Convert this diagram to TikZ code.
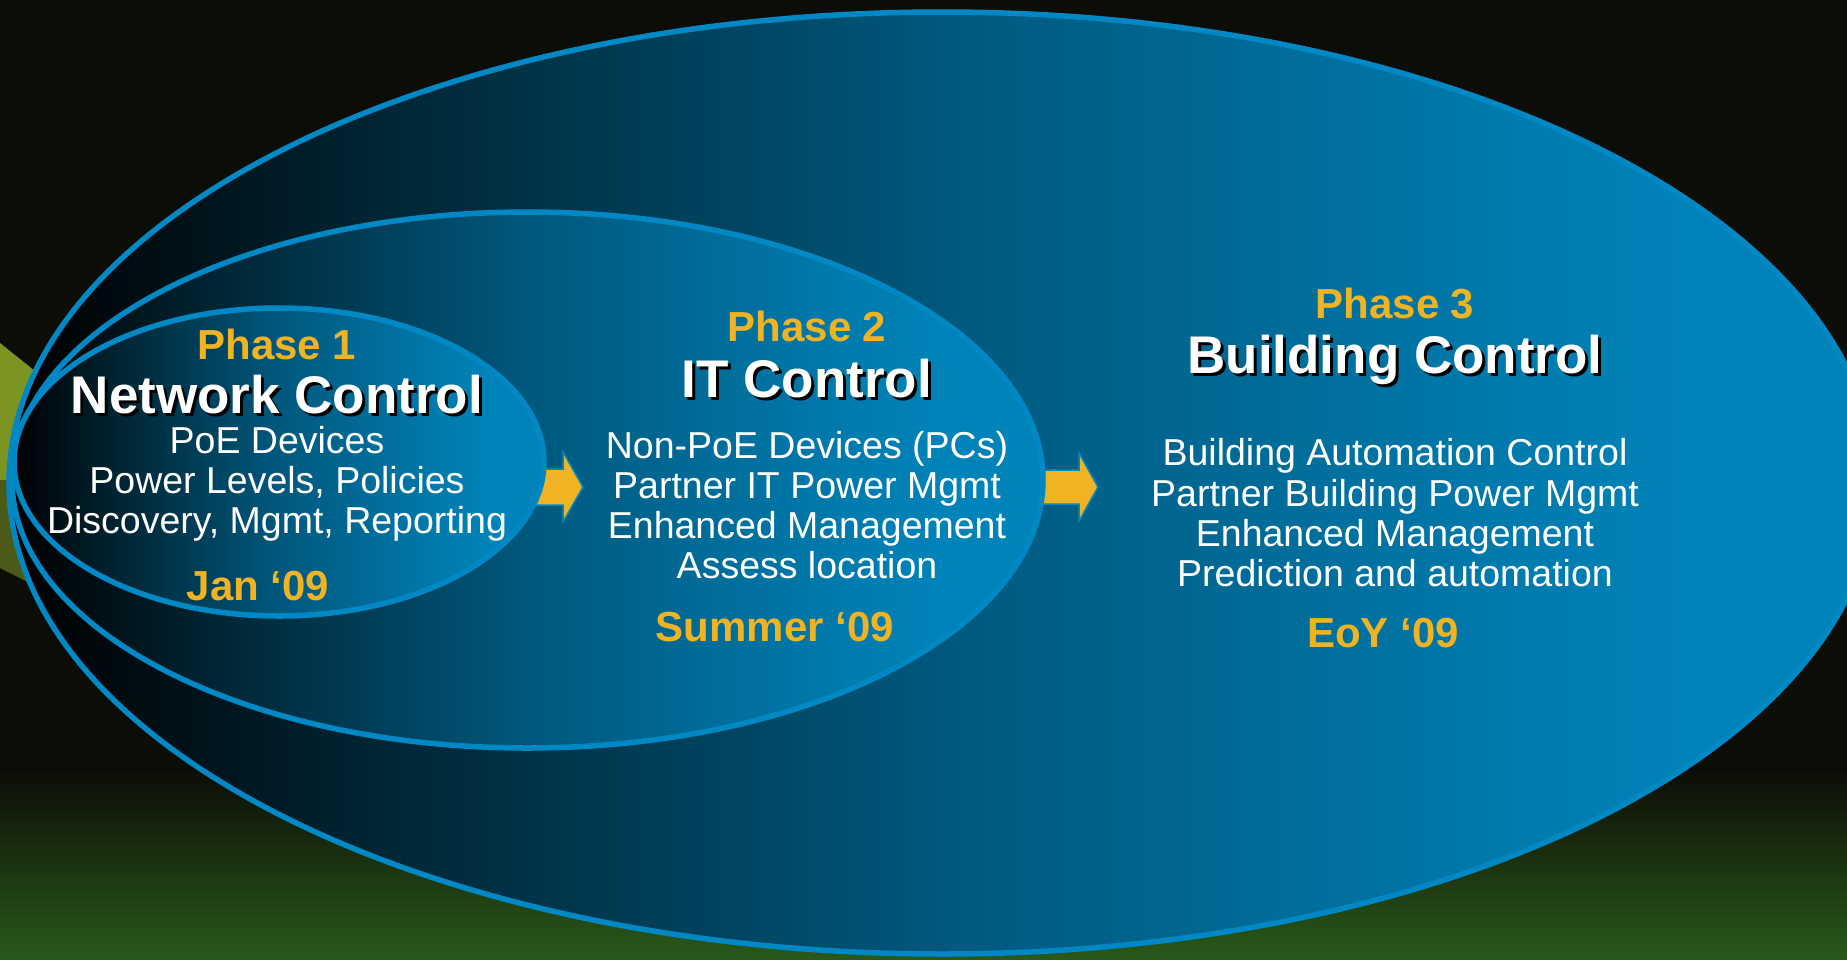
\documentclass[tikz,border=0pt]{standalone}
\usepackage{fontspec}
\setmainfont{Liberation Sans}
\definecolor{bgdark}{HTML}{0D0D07}
\definecolor{bggreen}{HTML}{29591A}
\definecolor{lime}{HTML}{7C9522}
\definecolor{olive}{HTML}{4C5A19}
\definecolor{rimblue}{HTML}{0088C4}
\definecolor{phaseyellow}{HTML}{F0B323}
\definecolor{rampA}{HTML}{000000}
\definecolor{rampB}{HTML}{00222F}
\definecolor{rampC}{HTML}{00587D}
\definecolor{rampD}{HTML}{007AAC}
\definecolor{rampE}{HTML}{0083B8}
\pgfdeclarehorizontalshading{blueramp}{100bp}{
  color(0bp)=(rampA);
  color(25bp)=(rampA);
  color(34bp)=(rampB);
  color(50bp)=(rampC);
  color(65bp)=(rampD);
  color(70bp)=(rampE);
  color(100bp)=(rampE)}
\tikzset{
  oval/.style={draw=rimblue, line width=5.5pt, shading=blueramp},
  blockarrow/.style={fill=phaseyellow, draw=rimblue, line width=1.5pt, line join=miter},
  phase/.style={text=phaseyellow, font=\bfseries\fontsize{42}{42}\selectfont, anchor=base, inner sep=0pt},
  title/.style={text=white, font=\bfseries\fontsize{53}{53}\selectfont, anchor=base, inner sep=0pt},
  titleshadow/.style={title, text=black},
  item/.style={text=white, font=\fontsize{37.5}{40}\selectfont, anchor=base, inner sep=0pt}
}
\begin{document}
\begin{tikzpicture}[x=1pt, y=-1pt]
\useasboundingbox (0,0) rectangle (1847,959);
% background
\fill[bgdark] (0,0) rectangle (1847,959);
\shade[top color=bgdark, bottom color=bggreen] (0,770) rectangle (1847,959);
\fill[lime] (0,343) -- (40,375) -- (40,480) -- (0,480) -- cycle;
\fill[olive] (0,480) -- (40,480) -- (40,588) -- (0,568) -- cycle;
% outer ellipse
\path[oval] (942,483) ellipse [x radius=933pt, y radius=471pt];
% arrow 2
\draw[blockarrow] (1030,470) -- (1079,470) -- (1079,453) -- (1098,487) -- (1079,521) -- (1079,504) -- (1030,504) -- cycle;
% middle ellipse
\path[oval] (527.5,480) ellipse [x radius=515.5pt, y radius=268pt];
% arrow 1
\draw[blockarrow] (520,469) -- (563,469) -- (563,452) -- (583,487) -- (563,522) -- (563,505) -- (520,505) -- cycle;
% inner ellipse
\path[oval] (279,462) ellipse [x radius=265pt, y radius=154pt];
% Phase 1
\node[phase] (p1) at (277,359) {Phase 1};
\node[titleshadow] (t1s) at (280,416) {Network Control};
\node[title] (t1) at (277,413) {Network Control};
\node[item] (a1) at (277,453) {PoE Devices};
\node[item] (a2) at (277,493) {Power Levels, Policies};
\node[item] (a3) at (277,533) {Discovery, Mgmt, Reporting};
\node[phase] (d1) at (258,600) {Jan ‘09};
% Phase 2
\node[phase] (p2) at (807,341) {Phase 2};
\node[titleshadow] (t2s) at (810,400) {IT Control};
\node[title] (t2) at (807,397) {IT Control};
\node[item] (b1) at (807,458) {Non-PoE Devices (PCs)};
\node[item] (b2) at (807,498) {Partner IT Power Mgmt};
\node[item] (b3) at (807,538) {Enhanced Management};
\node[item] (b4) at (807,578) {Assess location};
\node[phase] (d2) at (775,641) {Summer ‘09};
% Phase 3
\node[phase] (p3) at (1395,318) {Phase 3};
\node[titleshadow] (t3s) at (1398,376) {Building Control};
\node[title] (t3) at (1395,373) {Building Control};
\node[item] (c1) at (1395,465) {Building Automation Control};
\node[item] (c2) at (1395,506) {Partner Building Power Mgmt};
\node[item] (c3) at (1395,546) {Enhanced Management};
\node[item] (c4) at (1395,586) {Prediction and automation};
\node[phase] (d3) at (1383,647) {EoY ‘09};
\end{tikzpicture}
\end{document}
